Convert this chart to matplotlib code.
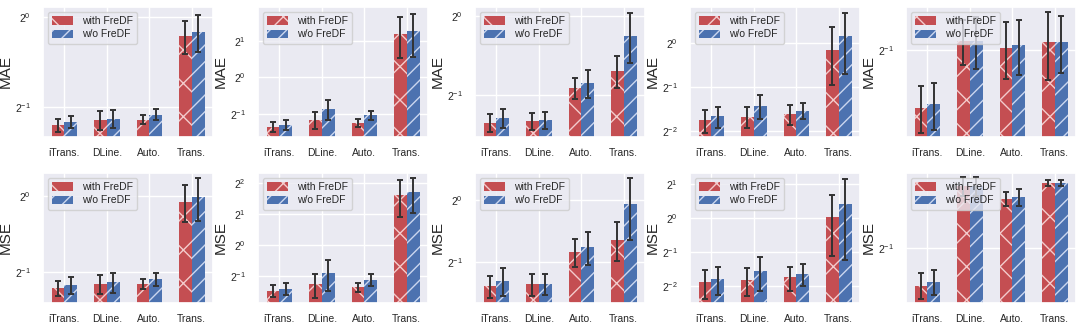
import numpy as np
import matplotlib
matplotlib.use("Agg")
import matplotlib.pyplot as plt
import seaborn as sns

sns.set_theme(style="darkgrid")
plt.rcParams['font.family'] = ['Liberation Sans', 'DejaVu Sans']
plt.rcParams['hatch.linewidth'] = 1.0

models = ["iTrans.", "DLine.", "Auto.", "Trans."]
labels = ["with FreDF", "w/o FreDF"]

# MAE (top row), five datasets
mae_with = [[0.434, 0.451, 0.454, 0.862],
            [0.388, 0.446, 0.421, 2.30],
            [0.393, 0.400, 0.533, 0.618],
            [0.297, 0.315, 0.327, 0.900],
            [0.354, 0.526, 0.505, 0.522]]
mae_without = [[0.446, 0.457, 0.472, 0.889],
               [0.405, 0.547, 0.485, 2.41],
               [0.411, 0.402, 0.557, 0.842],
               [0.317, 0.373, 0.346, 1.111],
               [0.361, 0.526, 0.513, 0.522]]
mae_with_err = [[0.021, 0.033, 0.015, 0.108],
                [0.035, 0.074, 0.030, 0.84],
                [0.030, 0.030, 0.050, 0.085],
                [0.052, 0.053, 0.051, 0.38],
                [0.050, 0.070, 0.084, 0.104]]
mae_without_err = [[0.022, 0.030, 0.020, 0.128],
                   [0.038, 0.104, 0.039, 0.93],
                   [0.034, 0.029, 0.069, 0.18],
                   [0.052, 0.072, 0.044, 0.50],
                   [0.050, 0.080, 0.082, 0.088]]

# MSE (bottom row)
mse_with = [[0.433, 0.450, 0.450, 0.944],
            [0.363, 0.421, 0.394, 3.06],
            [0.382, 0.391, 0.563, 0.644],
            [0.268, 0.279, 0.296, 1.014],
            [0.420, 0.665, 0.627, 0.675]]
mse_without = [[0.444, 0.457, 0.471, 0.985],
               [0.379, 0.539, 0.464, 3.27],
               [0.405, 0.394, 0.593, 0.963],
               [0.287, 0.335, 0.317, 1.312],
               [0.427, 0.665, 0.633, 0.675]]
mse_with_err = [[0.031, 0.040, 0.021, 0.155],
                [0.045, 0.11, 0.040, 1.18],
                [0.047, 0.047, 0.088, 0.137],
                [0.077, 0.078, 0.070, 0.56],
                [0.025, 0.03, 0.02, 0.01]]
mse_without_err = [[0.034, 0.042, 0.028, 0.19],
                   [0.052, 0.18, 0.065, 1.2],
                   [0.062, 0.047, 0.11, 0.32],
                   [0.081, 0.112, 0.068, 0.89],
                   [0.025, 0.03, 0.025, 0.01]]

# axis limits as log2 exponents
mae_ylim_exp = [(-1.333, 0.111), (-1.642, 1.936), (-1.525, 0.113), (-2.129, 0.818), (-1.749, -0.634)]
mse_ylim_exp = [(-1.40, 0.296), (-1.86, 2.32), (-1.656, 0.441), (-2.51, 1.314), (-1.367, -0.50)]

red = "#C44E52"
blue = "#4C72B0"

fig = plt.figure(figsize=(10.8, 3.25), dpi=100)
lefts = [43, 258, 475, 690, 906]
W, H = 1080, 325
rows = [
    ("MAE", mae_with, mae_without, mae_with_err, mae_without_err, mae_ylim_exp, 7),
    ("MSE", mse_with, mse_without, mse_with_err, mse_without_err, mse_ylim_exp, 173),
]
x = np.arange(len(models))
bw = 0.3
for name, vw, vo, ew, eo, ylx, top in rows:
    for i in range(5):
        ax = fig.add_axes([lefts[i] / W, 1 - (top + 130) / H, 170 / W, 130 / H])
        ax.set_yscale('log', base=2)
        ax.bar(x - bw / 2, vw[i], bw, color=red, hatch='x', edgecolor=(1, 0.92, 0.92, 0.8),
               linewidth=0, label=labels[0], zorder=2)
        ax.bar(x + bw / 2, vo[i], bw, color=blue, hatch='//', edgecolor=(0.92, 0.94, 1, 0.8),
               linewidth=0, label=labels[1], zorder=2)
        ax.errorbar(x - bw / 2, vw[i], yerr=ew[i], fmt='none', ecolor='#333333',
                    elinewidth=1.4, capsize=2, capthick=1.4, zorder=3)
        ax.errorbar(x + bw / 2, vo[i], yerr=eo[i], fmt='none', ecolor='#333333',
                    elinewidth=1.4, capsize=2, capthick=1.4, zorder=3)
        ax.set_ylim(2 ** ylx[i][0], 2 ** ylx[i][1])
        ax.set_xlim(-0.5, 3.5)
        ax.set_xticks(x)
        ax.set_xticklabels(models, fontsize=7.5)
        ax.tick_params(axis='y', labelsize=7.5, pad=3)
        ax.tick_params(axis='x', pad=2)
        ax.minorticks_off()
        ax.set_ylabel(name, fontsize=11)
        ax.yaxis.set_label_coords(-0.18, 0.5)
        ax.legend(loc='upper left', fontsize=7.5, handlelength=2.0, handleheight=0.9,
                  borderpad=0.4, labelspacing=0.3, framealpha=0.8)

fig.savefig("out.png", dpi=100)
